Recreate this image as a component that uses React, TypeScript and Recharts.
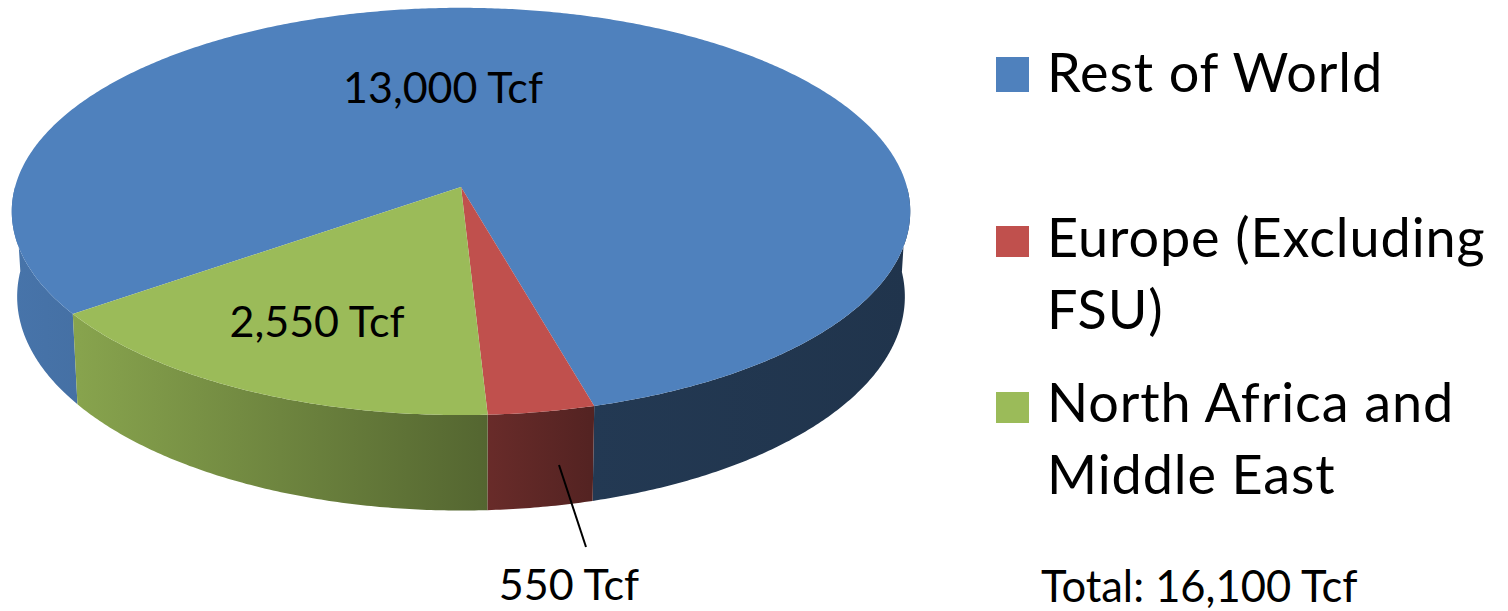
import React from "react";
import { PieChart, Pie, Legend } from "recharts";

const categories = ["Rest of World", "Europe (Excluding FSU)", "North Africa and Middle East"];
const reserves = [13000, 550, 2550];
const colors = ["#4F81BD", "#C0504D", "#9BBB59"];
const legendLines = [["Rest of World"], ["Europe (Excluding", "FSU)"], ["North Africa and", "Middle East"]];
const totalLabel = "Total: 16,100 Tcf";

const data = categories.map((name, i) => ({ name, value: reserves[i], fill: colors[i] }));

// Disc projection: the near edge of the pie is drawn larger than the far edge.
const TILT = 0.45;
const PERSPECTIVE = 0.12;
const WALL_HEIGHT = 84;
const BASE_SHRINK = 0.988;

// Value-label placement (centre x, baseline y) for each slice.
const labelSpots = [
  { x: 443, y: 103 },
  { x: 569, y: 600 },
  { x: 317, y: 337 },
];
const leader = { x1: 559, y1: 465, x2: 586, y2: 547 };

// Legend rows: swatch box and the baseline of the first text line.
const legendRows = [
  { top: 57, height: 35, baseline: 92 },
  { top: 226, height: 31, baseline: 257 },
  { top: 392, height: 31, baseline: 422 },
];
const LEGEND_LINE = 71.5;
const FONT = "Lato, 'Noto Sans', sans-serif";

// Side-wall shading by horizontal position: [x, brightness].
const wallShade: [number, number][] = [
  [12, 0.9],
  [80, 0.87],
  [480, 0.55],
  [590, 0.44],
  [910, 0.4],
];

const shadeColor = (hex: string, f: number) => {
  const n = parseInt(hex.slice(1), 16);
  const c = [(n >> 16) & 255, (n >> 8) & 255, n & 255].map((v) => Math.round(v * f));
  return `rgb(${c[0]},${c[1]},${c[2]})`;
};

const SlantedSlice = (props: any) => {
  const { cx, cy, outerRadius, startAngle, endAngle, fill, index } = props;
  const b = outerRadius * TILT;
  const steps = Math.max(2, Math.ceil(Math.abs(endAngle - startAngle) * 2));
  const angles = Array.from({ length: steps + 1 }, (_, i) => startAngle + ((endAngle - startAngle) * i) / steps);

  const unit = (deg: number) => {
    const r = (-deg * Math.PI) / 180;
    return { u: Math.cos(r), v: Math.sin(r) };
  };
  const top = (deg: number) => {
    const { u, v } = unit(deg);
    const d = 1 - PERSPECTIVE * v;
    return [cx + (outerRadius * u) / d, cy + (b * v) / d];
  };
  const base = (deg: number) => {
    const { u, v } = unit(deg);
    const d = 1 - PERSPECTIVE * v;
    return [cx + (outerRadius * BASE_SHRINK * u) / d, cy + (b * v + WALL_HEIGHT) / d];
  };
  const fmt = (p: number[]) => `${p[0].toFixed(2)} ${p[1].toFixed(2)}`;

  // Only the part of the rim that faces the viewer gets a wall.
  const runs: number[][] = [];
  let run: number[] = [];
  angles.forEach((deg) => {
    if (unit(deg).v >= 0) run.push(deg);
    else if (run.length) {
      runs.push(run);
      run = [];
    }
  });
  if (run.length) runs.push(run);

  const gradId = `wall-${index}`;
  return (
    <g>
      <defs>
        <linearGradient id={gradId} gradientUnits="userSpaceOnUse" x1={12} x2={910} y1={0} y2={0}>
          {wallShade.map(([x, f]) => (
            <stop key={x} offset={(x - 12) / 898} stopColor={shadeColor(fill, f)} />
          ))}
        </linearGradient>
      </defs>
      {runs.map((r, i) => (
        <path
          key={i}
          fill={`url(#${gradId})`}
          d={`M${r.map((a) => fmt(top(a))).join("L")}L${[...r].reverse().map((a) => fmt(base(a))).join("L")}Z`}
        />
      ))}
      <path fill={fill} d={`M${cx} ${cy}L${angles.map((a) => fmt(top(a))).join("L")}Z`} />
    </g>
  );
};

const ValueLabel = (props: any) => {
  const { index, value } = props;
  const spot = labelSpots[index];
  return (
    <g>
      {index === 1 && <line {...leader} stroke="#000" strokeWidth={2} />}
      <text x={spot.x} y={spot.y} textAnchor="middle" fontFamily={FONT} fontSize={43} fill="#000">
        {`${Number(value).toLocaleString("en-US")} Tcf`}
      </text>
    </g>
  );
};

const LegendPanel = (props: any) => {
  const payload = props.payload ?? [];
  return (
    <svg width={1508} height={611} style={{ display: "block" }}>
      {payload.map((entry: any, i: number) => (
        <g key={entry.value}>
          <rect x={996} y={legendRows[i].top} width={33} height={legendRows[i].height} fill={entry.color} />
          <text fontFamily={FONT} fontSize={54} letterSpacing={0.9} fill="#000">
            {legendLines[i].map((line, j) => (
              <tspan key={line} x={1047} y={legendRows[i].baseline + j * LEGEND_LINE}>
                {line}
              </tspan>
            ))}
          </text>
        </g>
      ))}
      <text x={1041} y={602} fontFamily={FONT} fontSize={43.5} fill="#000">
        {totalLabel}
      </text>
    </svg>
  );
};

export default function App() {
  return (
    <div style={{ position: "absolute", left: 0, top: 0, width: 1508, height: 611, overflow: "hidden", background: "#fff" }}>
      <PieChart width={1508} height={611} margin={{ top: 0, right: 0, bottom: 0, left: 0 }}>
        <Pie
          data={data}
          dataKey="value"
          nameKey="name"
          cx={461}
          cy={187}
          innerRadius={0}
          outerRadius={446}
          startAngle={-144}
          endAngle={-504}
          stroke="none"
          shape={SlantedSlice}
          label={ValueLabel}
          labelLine={false}
          isAnimationActive={false}
        />
        <Legend
          content={LegendPanel}
          itemSorter={null}
          wrapperStyle={{ position: "absolute", left: 0, top: 0, width: 1508, height: 611, pointerEvents: "none" }}
        />
      </PieChart>
    </div>
  );
}
